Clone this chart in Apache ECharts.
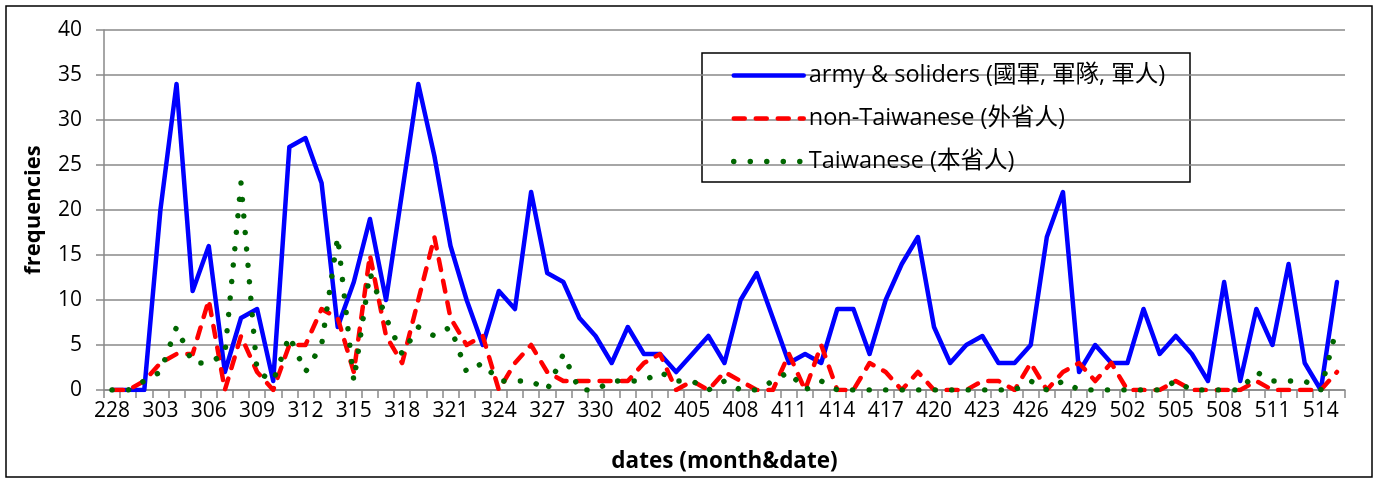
<!DOCTYPE html>
<html><head><meta charset="utf-8">
<script src="https://cdn.jsdelivr.net/npm/echarts@6/dist/echarts.min.js"></script>
<style>html,body{margin:0;padding:0;background:#fff}#c{width:1378px;height:480px}</style>
</head><body><div id="c"></div>
<script>
var dates = ['228','301','302','303','304','305','306','307','308','309','310','311','312','313','314','315','316','317','318','319','320','321','322','323','324','325','326','327','328','329','330','331',
'401','402','403','404','405','406','407','408','409','410','411','412','413','414','415','416','417','418','419','420','421','422','423','424','425','426','427','428','429','430',
'501','502','503','504','505','506','507','508','509','510','511','512','513','514','515'];
var army = [0,0,0,20,34,11,16,2,8,9,1,27,28,23,7,12,19,10,22,34,26,16,10,5,11,9,22,13,12,8,6,3,
7,4,4,2,4,6,3,10,13,8,3,4,3,9,9,4,10,14,17,7,3,5,6,3,3,5,17,22,2,5,
3,3,9,4,6,4,1,12,1,9,5,14,3,0,12];
var nonTaiwanese = [0,0,1,3,4,4,10,0,6,2,0,5,5,9,8,2,15,6,3,10,17,8,5,6,0,3,5,2,1,1,1,1,
1,3,4,0,1,0,2,1,0,0,4,0,5,0,0,3,2,0,2,0,0,0,1,1,0,3,0,2,3,1,
3,0,0,0,1,0,0,0,0,1,0,0,0,0,2];
var taiwanese = [0,0,1,2,7,3,3,4,23,2,1,6,2,5,17,1,13,8,4,7,6,7,2,3,1,1,1,0,4,0,0,1,
1,1,2,1,1,0,1,0,0,1,2,0,1,0,0,0,0,0,0,0,0,0,0,0,0,1,0,1,0,0,
0,0,0,0,1,0,0,0,0,2,1,1,1,0,7];
var seriesNames = ['army & soliders (國軍, 軍隊, 軍人)','non-Taiwanese (外省人)','Taiwanese (本省人)'];
var yTicks = {min:0, max:40, interval:5};

var FONT = '"Open Sans","Noto Sans CJK TC",sans-serif';
var grey = '#898989';
var chart = echarts.init(document.getElementById('c'), null, {renderer:'canvas'});
chart.setOption({
  animation:false,
  backgroundColor:'#fff',
  textStyle:{fontFamily:FONT},
  grid:{left:104, right:33, top:30, bottom:90, containLabel:false, outerBoundsMode:'none'},
  xAxis:{
    type:'category', data:dates, boundaryGap:true,
    name:'dates (month&date)', nameLocation:'middle', nameGap:60,
    nameTextStyle:{fontFamily:FONT, fontSize:22.5, fontWeight:'bold', color:'#000'},
    axisLine:{lineStyle:{color:grey, width:1.5}},
    axisTick:{show:true, interval:0, length:8, lineStyle:{color:grey, width:1.5}},
    axisLabel:{interval:2, fontSize:21, color:'#000', margin:11, fontFamily:FONT},
    splitLine:{show:false}
  },
  yAxis:{
    type:'value', min:yTicks.min, max:yTicks.max, interval:yTicks.interval,
    name:'frequencies', nameLocation:'middle', nameGap:59,
    nameTextStyle:{fontFamily:FONT, fontSize:22, fontWeight:'bold', color:'#000'},
    axisLine:{show:true, lineStyle:{color:grey, width:1.5}},
    axisTick:{show:true, length:8, lineStyle:{color:grey, width:1.5}},
    axisLabel:{fontSize:21, color:'#000', margin:22, fontFamily:FONT},
    splitLine:{show:true, lineStyle:{color:grey, width:1.5}}
  },
  legend:{
    orient:'vertical', left:726, top:57,
    itemWidth:70, itemHeight:14, itemGap:16,
    itemStyle:{opacity:0},
    lineStyle:{width:'inherit', type:'inherit', cap:'round'},
    textStyle:{fontSize:23.5, color:'#000', fontFamily:FONT, lineHeight:27},
    data:seriesNames
  },
  graphic:[
    {type:'rect', shape:{x:6, y:6, width:1366, height:471}, style:{fill:'none', stroke:'#000', lineWidth:1.5}, z:100},
    {type:'rect', shape:{x:702, y:53, width:488, height:129}, style:{fill:'#fff', stroke:'#000', lineWidth:1.5}, z:-1, zlevel:0}
  ],
  series:[
    {name:seriesNames[0], type:'line', data:army, symbol:'none', smooth:false,
     lineStyle:{color:'#0000ff', width:4.5, cap:'round', join:'round'}, itemStyle:{color:'#0000ff'}},
    {name:seriesNames[1], type:'line', data:nonTaiwanese, symbol:'none',
     lineStyle:{color:'#ff0000', width:4.5, type:[11,11], cap:'round', join:'round'}, itemStyle:{color:'#ff0000'}},
    {name:seriesNames[2], type:'line', data:taiwanese, symbol:'none',
     lineStyle:{color:'#006600', width:5.5, type:[0.01,16.5], cap:'round', join:'round'}, itemStyle:{color:'#006600'}}
  ]
});
</script></body></html>
